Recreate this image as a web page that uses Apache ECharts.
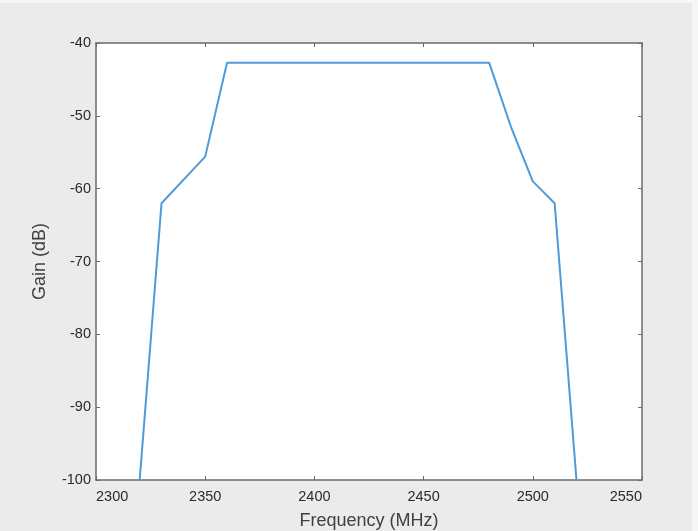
<!DOCTYPE html>
<html><head><meta charset="utf-8">
<script src="https://cdn.jsdelivr.net/npm/echarts@6/dist/echarts.min.js"></script>
<style>html,body{margin:0;padding:0;background:#f7f7f7;}#c{width:698px;height:531px;}</style>
</head><body><div id="c"></div>
<script>
const freq = [2320, 2330, 2350, 2360, 2480, 2490, 2500, 2510, 2520];
const gain = [-100, -62, -55.6, -42.7, -42.7, -51.5, -59, -62, -100];
const xTicks = [2300, 2350, 2400, 2450, 2500, 2550];
const yTicks = [-100, -90, -80, -70, -60, -50, -40];

const chart = echarts.init(document.getElementById('c'), null, {renderer:'canvas'});
const axisCol = '#6b6b6b';
const txt = '#2a2a2a';
const font = 'Liberation Sans, Arial, sans-serif';
chart.setOption({
  animation:false,
  backgroundColor:'transparent',
  graphic:[{type:'rect', z:-10, shape:{x:0,y:3,width:692,height:528}, style:{fill:'#ebebeb'}}],
  grid:{left:96, right:56, top:43, bottom:51, show:true, backgroundColor:'#ffffff', borderWidth:0,
    outerBoundsMode:'none', containLabel:false},
  xAxis:[{
    type:'value', min:xTicks[0], max:xTicks[xTicks.length-1], interval:50,
    name:'Frequency (MHz)', nameLocation:'middle', nameGap:32,
    nameTextStyle:{color:'#404040', fontSize:18, fontFamily:font},
    axisLine:{show:true, lineStyle:{color:axisCol, width:1.5}},
    axisTick:{show:true, inside:true, length:4, lineStyle:{color:axisCol}},
    axisLabel:{color:txt, fontSize:14.5, fontFamily:font, margin:9, alignMinLabel:'left', alignMaxLabel:'right',
      formatter:v=>String(v)},
    splitLine:{show:false}
  },{
    type:'value', position:'top', min:xTicks[0], max:xTicks[xTicks.length-1], interval:50,
    axisLine:{show:true, lineStyle:{color:axisCol, width:1.5}},
    axisTick:{show:true, inside:true, length:4, lineStyle:{color:axisCol}},
    axisLabel:{show:false}, splitLine:{show:false}
  }],
  yAxis:[{
    type:'value', min:yTicks[0], max:yTicks[yTicks.length-1], interval:10,
    name:'Gain (dB)', nameLocation:'middle', nameGap:47, nameRotate:90,
    nameTextStyle:{color:'#404040', fontSize:18, fontFamily:font},
    axisLine:{show:true, lineStyle:{color:axisCol, width:1.5}},
    axisTick:{show:true, inside:true, length:4, lineStyle:{color:axisCol}},
    axisLabel:{color:txt, fontSize:14.5, fontFamily:font, margin:5, formatter:v=>String(v)},
    splitLine:{show:false}
  },{
    type:'value', position:'right', min:yTicks[0], max:yTicks[yTicks.length-1], interval:10,
    axisLine:{show:true, lineStyle:{color:axisCol, width:1.5}},
    axisTick:{show:true, inside:true, length:4, lineStyle:{color:axisCol}},
    axisLabel:{show:false}, splitLine:{show:false}
  }],
  series:[{
    type:'line', xAxisIndex:0, yAxisIndex:0,
    data: freq.map((f,i)=>[f, gain[i]]),
    showSymbol:false, lineStyle:{color:'#4f9bd9', width:2}, clip:true
  }]
});
</script></body></html>
